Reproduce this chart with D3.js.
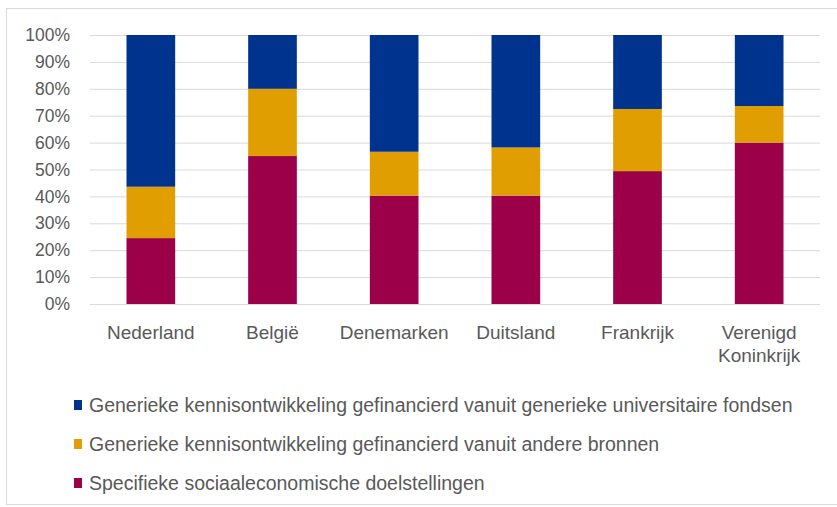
<!DOCTYPE html>
<html><head><meta charset="utf-8">
<script src="https://cdn.jsdelivr.net/npm/d3@7"></script>
<style>
html,body{margin:0;padding:0;background:#fff;}
text{font-family:"Liberation Sans",Arial,sans-serif;fill:#595959;}
</style></head>
<body><svg id="c" width="837" height="507"></svg>
<script>
const categories = ["Nederland", "België", "Denemarken", "Duitsland", "Frankrijk", "Verenigd Koninkrijk"];
const seriesNames = [
  "Specifieke sociaaleconomische doelstellingen",
  "Generieke kennisontwikkeling gefinancierd vanuit andere bronnen",
  "Generieke kennisontwikkeling gefinancierd vanuit generieke universitaire fondsen"
];
const specifiek = [24.5, 55.0, 40.3, 40.3, 49.4, 60.0];
const andereBronnen = [19.1, 25.0, 16.3, 17.9, 23.1, 13.6];
const universitair = [56.4, 20.0, 43.4, 41.8, 27.5, 26.4];
const seriesColors = ["#9B0048", "#E09E00", "#00338D"];
const yTicks = [0, 10, 20, 30, 40, 50, 60, 70, 80, 90, 100];

const svg = d3.select("#c");
// frame
svg.append("rect").attr("x", 6.5).attr("y", 8.5).attr("width", 840).attr("height", 496)
  .attr("fill", "none").attr("stroke", "#d9d9d9");

const x = d3.scaleBand().domain(categories).range([90, 820]).paddingInner(0.6).paddingOuter(0.3);
const y = d3.scaleLinear().domain([0, 100]).range([304, 35]);

// gridlines
svg.append("g").selectAll("line").data(yTicks).join("line")
  .attr("x1", 90).attr("x2", 820).attr("y1", d => y(d) + 0.5).attr("y2", d => y(d) + 0.5)
  .attr("stroke", "#d9d9d9").attr("stroke-width", 1);

// y axis
const yAxis = svg.append("g").attr("transform", "translate(70,0)")
  .call(d3.axisLeft(y).tickValues(yTicks).tickFormat(d => d + "%").tickSize(0).tickPadding(0));
yAxis.select(".domain").remove();
yAxis.selectAll("text").style("font-size", "17.5px").style("font-family", "'Liberation Sans',Arial,sans-serif").attr("fill", "#595959");

// stacked data
const rows = categories.map((c, i) => ({cat: c, s0: specifiek[i], s1: andereBronnen[i], s2: universitair[i]}));
const stack = d3.stack().keys(["s0", "s1", "s2"])(rows);
svg.append("g").selectAll("g").data(stack).join("g")
  .attr("fill", (d, i) => seriesColors[i])
  .selectAll("rect").data(d => d).join("rect")
  .attr("x", d => x(d.data.cat)).attr("width", x.bandwidth())
  .attr("y", d => y(d[1])).attr("height", d => y(d[0]) - y(d[1]));

// x labels
const xl = svg.append("g").selectAll("text").data(categories).join("text")
  .attr("x", d => x(d) + x.bandwidth() / 2).attr("y", 339)
  .attr("text-anchor", "middle").style("font-size", "19px");
xl.each(function(d) {
  const words = d === "Verenigd Koninkrijk" ? ["Verenigd", "Koninkrijk"] : [d];
  d3.select(this).selectAll("tspan").data(words).join("tspan")
    .attr("x", x(d) + x.bandwidth() / 2).attr("dy", (w, i) => i === 0 ? 0 : 23).text(w => w);
});

// legend
const legendOrder = [2, 1, 0];
const lg = svg.append("g").selectAll("g").data(legendOrder).join("g")
  .attr("transform", (d, i) => `translate(74,${405 + i * 39})`);
lg.append("rect").attr("x", 0).attr("y", -5).attr("width", 8).attr("height", 10).attr("fill", d => seriesColors[d]);
lg.append("text").attr("x", 15).attr("y", 7).style("font-size", "19.5px").text(d => seriesNames[d]);
</script></body></html>
